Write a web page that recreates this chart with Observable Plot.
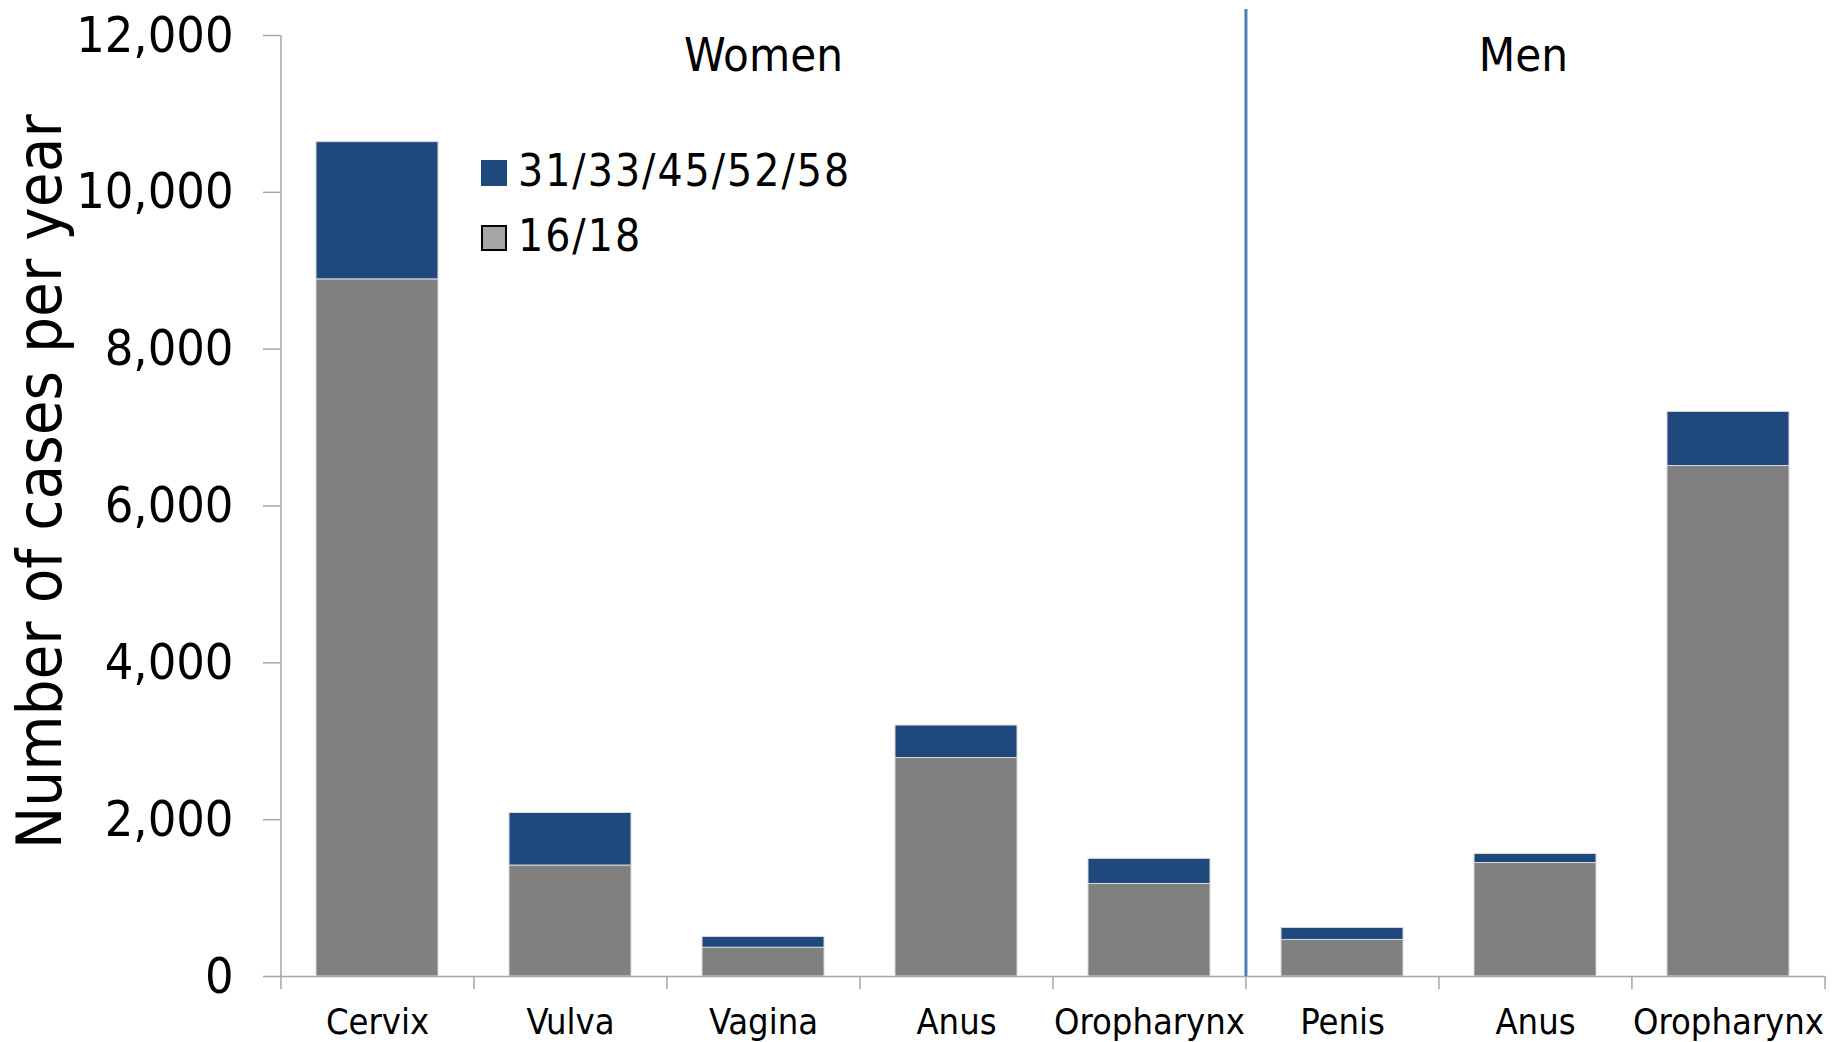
<!DOCTYPE html>
<html>
<head>
<meta charset="utf-8">
<script src="https://cdn.jsdelivr.net/npm/d3@7"></script>
<script src="https://cdn.jsdelivr.net/npm/@observablehq/plot@0.6"></script>
<style>
  html, body { margin: 0; padding: 0; background: #fff; }
  #wrap { position: relative; width: 1845px; height: 1042px; font-family: "DejaVu Sans Condensed", "DejaVu Sans", sans-serif; font-stretch: condensed; }
  #wrap svg { overflow: visible; }
  .lg-sw { position: absolute; width: 26px; height: 26px; box-sizing: border-box; }
  .lg-tx { position: absolute; font-size: 44px; line-height: 44px; color: #000; white-space: nowrap; letter-spacing: 2px; }
</style>
</head>
<body>
<div id="wrap"></div>
<script>
// ---- data ----
const categories = ["Cervix", "Vulva", "Vagina", "Anus", "Oropharynx", "Penis", "Anus", "Oropharynx"];
const sexes = ["Women", "Women", "Women", "Women", "Women", "Men", "Men", "Men"];
const hpv1618 = [8890, 1415, 367, 2786, 1180, 466, 1447, 6510];
const hpvOther = [1750, 670, 137, 414, 320, 153, 115, 690];
const seriesNames = ["16/18", "31/33/45/52/58"];
const seriesColors = ["#808080", "#1f497d"];
const yTicks = [0, 2000, 4000, 6000, 8000, 10000, 12000];
const yTitle = "Number of cases per year";

// ---- build table ----
const keys = categories.map((c, i) => sexes[i] + "-" + c);
const labelOf = new Map(keys.map((k, i) => [k, categories[i]]));
const rows = [];
keys.forEach((k, i) => rows.push({key: k, series: seriesNames[0], value: hpv1618[i]}));
keys.forEach((k, i) => rows.push({key: k, series: seriesNames[1], value: hpvOther[i]}));

const W = 1845, H = 1042;
const mL = 280, mR = 20, mT = 35, mB = 66;
const padInner = 0.367, padOuter = padInner / 2;
const step = d3.scaleBand().domain(keys).range([mL, W - mR]).paddingInner(padInner).paddingOuter(padOuter).step();
const firstKey = keys[0], lastKey = keys[keys.length - 1];
const menFirst = keys[sexes.indexOf("Men")];
const axisGray = "#a6a6a6";

const chart = Plot.plot({
  width: W, height: H,
  marginLeft: mL, marginRight: mR, marginTop: mT, marginBottom: mB,
  style: {fontFamily: '"DejaVu Sans Condensed", "DejaVu Sans", sans-serif', background: "#fff", color: "#000"},
  x: {type: "band", domain: keys, paddingInner: padInner, paddingOuter: padOuter, axis: null},
  y: {domain: [0, 12000], axis: null},
  color: {domain: seriesNames, range: seriesColors},
  marks: [
    Plot.barY(rows, {x: "key", y: "value", fill: "series", stroke: "#d9d9d9", strokeWidth: 1}),
    // baseline
    Plot.ruleY([0], {stroke: axisGray, strokeWidth: 1.5}),
    // category boundary ticks
    Plot.ruleX(keys, {x: d => d, dx: -step / 2, y1: -170, y2: 0, stroke: axisGray, strokeWidth: 1.5}),
    Plot.ruleX([lastKey], {x: d => d, dx: step / 2, y1: -170, y2: 0, stroke: axisGray, strokeWidth: 1.5}),
    // y axis line
    Plot.ruleX([firstKey], {x: d => d, dx: -step / 2, y1: 0, y2: 12000, stroke: axisGray, strokeWidth: 1.5}),
    // Women / Men divider
    Plot.ruleX([menFirst], {x: d => d, dx: -step / 2, y1: 0, y2: 12330, stroke: "#4a7ebb", strokeWidth: 3}),
    Plot.axisY({ticks: yTicks, tickFormat: d3.format(","), tickSize: 17, tickPadding: 30, fontSize: 50, stroke: axisGray, strokeWidth: 1.5, label: null}),
    Plot.axisX({tickSize: 0, tickPadding: 32, fontSize: 36, tickFormat: k => labelOf.get(k), label: null}),
    Plot.text([yTitle], {y: 6310, frameAnchor: "left", rotate: -90, dx: -240, fontSize: 63, textAnchor: "middle"}),
    Plot.text(["Women"], {x: () => "Women-Vagina", y: 11740, text: d => d, fontSize: 47}),
    Plot.text(["Men"], {x: () => "Men-Anus", y: 11740, text: d => d, fontSize: 47, dx: -12})
  ]
});
document.getElementById("wrap").appendChild(chart);

// ---- legend (inside chart area, HTML overlay) ----
const legendItems = [
  {name: seriesNames[1], color: seriesColors[1], border: "none"},
  {name: seriesNames[0], color: "#a6a6a6", border: "2px solid #000"}
];
const wrap = d3.select("#wrap");
legendItems.forEach((d, i) => {
  wrap.append("div").attr("class", "lg-sw")
    .style("left", "481px").style("top", (160 + i * 65) + "px")
    .style("background", d.color).style("border", d.border);
  wrap.append("div").attr("class", "lg-tx")
    .style("left", "518px").style("top", (149 + i * 65) + "px")
    .text(d.name);
});
</script>
</body>
</html>
